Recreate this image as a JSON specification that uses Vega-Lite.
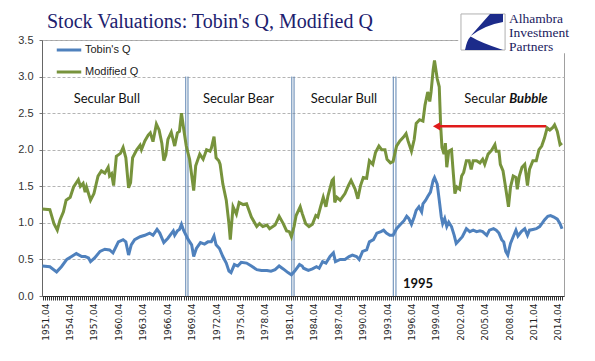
{
  "$schema": "https://vega.github.io/schema/vega-lite/v6.json",
  "width": 522,
  "height": 256,
  "autosize": {"type": "none"},
  "padding": {"left": 42, "top": 40, "right": 31, "bottom": 65},
  "background": "white",
  "title": {"text": "Stock Valuations: Tobin's Q, Modified Q", "anchor": "start", "frame": "group", "font": "Liberation Serif", "fontSize": 20, "fontWeight": "normal", "color": "#20206e", "offset": 8, "dx": 5, "dy": 33},
  "config": {"view": {"stroke": "#a0a0a0", "strokeWidth": 1}},
  "datasets": {
    "tobin": [
      {"d":"1951-06","v":0.41},{"d":"1952-05","v":0.40},{"d":"1953-03","v":0.33},{"d":"1953-10","v":0.40},{"d":"1954-06","v":0.50},{"d":"1955-01","v":0.54},{"d":"1955-08","v":0.58},{"d":"1956-04","v":0.54},{"d":"1956-09","v":0.54},{"d":"1957-02","v":0.52},{"d":"1957-05","v":0.47},{"d":"1957-11","v":0.52},{"d":"1958-07","v":0.61},{"d":"1959-02","v":0.64},{"d":"1959-09","v":0.63},{"d":"1960-02","v":0.59},{"d":"1960-10","v":0.74},{"d":"1961-05","v":0.77},{"d":"1961-09","v":0.74},{"d":"1962-01","v":0.56},{"d":"1962-05","v":0.70},{"d":"1962-10","v":0.77},{"d":"1963-06","v":0.81},{"d":"1964-01","v":0.83},{"d":"1964-08","v":0.86},{"d":"1965-01","v":0.83},{"d":"1965-07","v":0.91},{"d":"1965-11","v":0.86},{"d":"1966-05","v":0.73},{"d":"1966-11","v":0.79},{"d":"1967-07","v":0.89},{"d":"1967-09","v":0.83},{"d":"1968-01","v":0.89},{"d":"1968-04","v":0.91},{"d":"1968-07","v":0.98},{"d":"1968-10","v":0.90},{"d":"1969-05","v":0.77},{"d":"1969-10","v":0.70},{"d":"1970-01","v":0.54},{"d":"1970-05","v":0.65},{"d":"1970-11","v":0.73},{"d":"1971-05","v":0.71},{"d":"1971-10","v":0.74},{"d":"1972-03","v":0.74},{"d":"1972-07","v":0.82},{"d":"1972-10","v":0.70},{"d":"1973-03","v":0.65},{"d":"1973-08","v":0.54},{"d":"1974-01","v":0.45},{"d":"1974-05","v":0.34},{"d":"1974-08","v":0.32},{"d":"1975-01","v":0.43},{"d":"1975-06","v":0.41},{"d":"1975-11","v":0.46},{"d":"1976-07","v":0.45},{"d":"1977-02","v":0.41},{"d":"1977-10","v":0.36},{"d":"1978-05","v":0.35},{"d":"1979-01","v":0.35},{"d":"1979-07","v":0.34},{"d":"1980-01","v":0.36},{"d":"1980-07","v":0.41},{"d":"1981-01","v":0.37},{"d":"1981-08","v":0.32},{"d":"1982-01","v":0.29},{"d":"1982-06","v":0.34},{"d":"1983-01","v":0.43},{"d":"1983-05","v":0.41},{"d":"1983-07","v":0.38},{"d":"1984-02","v":0.35},{"d":"1984-08","v":0.37},{"d":"1985-02","v":0.40},{"d":"1985-06","v":0.38},{"d":"1985-11","v":0.47},{"d":"1986-04","v":0.45},{"d":"1986-10","v":0.54},{"d":"1987-03","v":0.59},{"d":"1987-06","v":0.47},{"d":"1988-01","v":0.50},{"d":"1988-08","v":0.50},{"d":"1989-02","v":0.54},{"d":"1989-07","v":0.56},{"d":"1990-01","v":0.54},{"d":"1990-05","v":0.50},{"d":"1990-10","v":0.61},{"d":"1991-04","v":0.63},{"d":"1991-08","v":0.74},{"d":"1992-02","v":0.77},{"d":"1992-07","v":0.86},{"d":"1993-01","v":0.88},{"d":"1993-05","v":0.90},{"d":"1993-09","v":0.86},{"d":"1994-02","v":0.83},{"d":"1994-07","v":0.83},{"d":"1994-12","v":0.92},{"d":"1995-05","v":0.97},{"d":"1995-11","v":1.03},{"d":"1996-03","v":1.09},{"d":"1996-06","v":1.06},{"d":"1996-10","v":0.98},{"d":"1997-02","v":1.08},{"d":"1997-05","v":1.17},{"d":"1997-09","v":1.22},{"d":"1998-01","v":1.15},{"d":"1998-03","v":1.26},{"d":"1998-07","v":1.31},{"d":"1998-10","v":1.36},{"d":"1999-02","v":1.42},{"d":"1999-06","v":1.58},{"d":"1999-08","v":1.62},{"d":"1999-12","v":1.53},{"d":"2000-03","v":1.31},{"d":"2000-06","v":1.08},{"d":"2000-08","v":0.99},{"d":"2000-11","v":1.06},{"d":"2001-02","v":0.95},{"d":"2001-05","v":1.01},{"d":"2001-09","v":0.95},{"d":"2002-01","v":0.83},{"d":"2002-04","v":0.72},{"d":"2002-08","v":0.76},{"d":"2003-01","v":0.81},{"d":"2003-07","v":0.92},{"d":"2003-12","v":0.88},{"d":"2004-05","v":0.90},{"d":"2004-10","v":0.88},{"d":"2005-03","v":0.89},{"d":"2005-07","v":0.88},{"d":"2006-01","v":0.83},{"d":"2006-05","v":0.90},{"d":"2006-11","v":0.92},{"d":"2007-03","v":0.90},{"d":"2007-07","v":0.86},{"d":"2007-11","v":0.77},{"d":"2008-02","v":0.74},{"d":"2008-05","v":0.61},{"d":"2008-08","v":0.56},{"d":"2008-12","v":0.72},{"d":"2009-04","v":0.81},{"d":"2009-08","v":0.90},{"d":"2009-11","v":0.82},{"d":"2010-04","v":0.88},{"d":"2010-09","v":0.92},{"d":"2011-01","v":0.83},{"d":"2011-04","v":0.90},{"d":"2011-09","v":0.91},{"d":"2012-02","v":0.92},{"d":"2012-07","v":0.95},{"d":"2012-11","v":1.00},{"d":"2013-02","v":1.04},{"d":"2013-07","v":1.09},{"d":"2013-11","v":1.10},{"d":"2014-04","v":1.08},{"d":"2014-09","v":1.05},{"d":"2015-01","v":0.99},{"d":"2015-04","v":0.92}
    ],
    "modified": [
      {"d":"1951-06","v":1.19},{"d":"1952-05","v":1.18},{"d":"1952-11","v":0.99},{"d":"1953-04","v":0.90},{"d":"1953-08","v":1.04},{"d":"1954-01","v":1.15},{"d":"1954-05","v":1.31},{"d":"1954-11","v":1.35},{"d":"1955-04","v":1.49},{"d":"1955-11","v":1.59},{"d":"1956-02","v":1.50},{"d":"1956-06","v":1.54},{"d":"1956-09","v":1.42},{"d":"1956-11","v":1.49},{"d":"1957-05","v":1.31},{"d":"1957-10","v":1.40},{"d":"1958-04","v":1.64},{"d":"1958-09","v":1.71},{"d":"1959-02","v":1.68},{"d":"1959-07","v":1.76},{"d":"1959-09","v":1.64},{"d":"1959-12","v":1.67},{"d":"1960-03","v":1.51},{"d":"1960-07","v":1.91},{"d":"1961-01","v":1.95},{"d":"1961-05","v":2.03},{"d":"1961-09","v":1.89},{"d":"1962-01","v":1.48},{"d":"1962-04","v":1.55},{"d":"1962-07","v":1.89},{"d":"1963-01","v":2.00},{"d":"1963-06","v":2.06},{"d":"1963-08","v":2.00},{"d":"1964-01","v":2.12},{"d":"1964-06","v":2.20},{"d":"1964-09","v":2.23},{"d":"1965-01","v":2.11},{"d":"1965-06","v":2.35},{"d":"1965-10","v":2.27},{"d":"1966-02","v":2.09},{"d":"1966-05","v":1.85},{"d":"1966-08","v":1.93},{"d":"1966-11","v":2.14},{"d":"1967-04","v":2.24},{"d":"1967-09","v":2.05},{"d":"1968-01","v":2.23},{"d":"1968-04","v":2.25},{"d":"1968-07","v":2.50},{"d":"1968-10","v":2.30},{"d":"1969-02","v":2.05},{"d":"1969-07","v":1.87},{"d":"1970-01","v":1.44},{"d":"1970-04","v":1.78},{"d":"1970-10","v":1.94},{"d":"1971-03","v":1.87},{"d":"1971-08","v":2.00},{"d":"1972-01","v":1.98},{"d":"1972-03","v":2.02},{"d":"1972-07","v":2.18},{"d":"1972-10","v":1.89},{"d":"1973-02","v":1.85},{"d":"1973-04","v":1.80},{"d":"1973-08","v":1.53},{"d":"1974-01","v":1.31},{"d":"1974-05","v":0.99},{"d":"1974-07","v":0.77},{"d":"1974-11","v":1.22},{"d":"1975-04","v":1.12},{"d":"1975-08","v":1.28},{"d":"1976-02","v":1.25},{"d":"1976-07","v":1.26},{"d":"1977-02","v":1.08},{"d":"1977-10","v":0.95},{"d":"1978-02","v":0.99},{"d":"1978-07","v":0.95},{"d":"1979-01","v":0.97},{"d":"1979-05","v":0.92},{"d":"1980-01","v":0.97},{"d":"1980-07","v":1.09},{"d":"1981-01","v":0.99},{"d":"1981-06","v":0.89},{"d":"1981-10","v":0.88},{"d":"1982-01","v":0.81},{"d":"1982-05","v":0.95},{"d":"1982-08","v":1.10},{"d":"1983-02","v":1.22},{"d":"1983-05","v":1.13},{"d":"1983-10","v":0.99},{"d":"1984-03","v":0.95},{"d":"1984-08","v":0.98},{"d":"1985-01","v":1.10},{"d":"1985-04","v":1.08},{"d":"1985-08","v":1.22},{"d":"1985-12","v":1.35},{"d":"1986-04","v":1.22},{"d":"1986-07","v":1.37},{"d":"1987-01","v":1.58},{"d":"1987-03","v":1.60},{"d":"1987-05","v":1.28},{"d":"1987-08","v":1.35},{"d":"1988-01","v":1.31},{"d":"1988-08","v":1.40},{"d":"1989-01","v":1.51},{"d":"1989-05","v":1.58},{"d":"1989-11","v":1.46},{"d":"1990-03","v":1.33},{"d":"1990-07","v":1.51},{"d":"1990-11","v":1.62},{"d":"1991-04","v":1.61},{"d":"1991-08","v":1.85},{"d":"1992-01","v":1.80},{"d":"1992-05","v":1.96},{"d":"1992-10","v":2.05},{"d":"1993-02","v":2.00},{"d":"1993-07","v":2.00},{"d":"1993-10","v":1.87},{"d":"1994-03","v":1.82},{"d":"1994-07","v":1.84},{"d":"1994-12","v":2.05},{"d":"1995-05","v":2.12},{"d":"1995-10","v":2.17},{"d":"1996-02","v":2.22},{"d":"1996-05","v":2.12},{"d":"1996-10","v":1.98},{"d":"1997-02","v":2.14},{"d":"1997-05","v":2.36},{"d":"1997-10","v":2.41},{"d":"1998-03","v":2.39},{"d":"1998-06","v":2.61},{"d":"1998-10","v":2.79},{"d":"1999-01","v":2.66},{"d":"1999-03","v":2.79},{"d":"1999-06","v":3.09},{"d":"1999-08","v":3.22},{"d":"1999-12","v":2.97},{"d":"2000-03","v":2.86},{"d":"2000-05","v":2.34},{"d":"2000-07","v":2.03},{"d":"2000-10","v":1.94},{"d":"2000-12","v":2.09},{"d":"2001-02","v":1.76},{"d":"2001-05","v":1.98},{"d":"2001-09","v":2.00},{"d":"2001-11","v":1.76},{"d":"2002-02","v":1.40},{"d":"2002-05","v":1.49},{"d":"2002-09","v":1.46},{"d":"2002-12","v":1.64},{"d":"2003-03","v":1.69},{"d":"2003-07","v":1.85},{"d":"2003-11","v":1.85},{"d":"2004-02","v":1.73},{"d":"2004-05","v":1.85},{"d":"2004-10","v":1.85},{"d":"2005-03","v":1.82},{"d":"2005-07","v":1.87},{"d":"2005-10","v":1.80},{"d":"2006-03","v":1.94},{"d":"2006-08","v":1.99},{"d":"2007-01","v":2.07},{"d":"2007-03","v":1.98},{"d":"2007-07","v":1.98},{"d":"2007-09","v":1.80},{"d":"2008-01","v":1.71},{"d":"2008-04","v":1.53},{"d":"2008-07","v":1.35},{"d":"2008-09","v":1.22},{"d":"2008-12","v":1.49},{"d":"2009-04","v":1.64},{"d":"2009-08","v":1.62},{"d":"2009-10","v":1.46},{"d":"2010-01","v":1.64},{"d":"2010-05","v":1.76},{"d":"2010-09","v":1.80},{"d":"2011-01","v":1.51},{"d":"2011-04","v":1.73},{"d":"2011-09","v":1.85},{"d":"2012-02","v":1.85},{"d":"2012-06","v":2.00},{"d":"2012-10","v":2.05},{"d":"2013-02","v":2.16},{"d":"2013-06","v":2.30},{"d":"2013-10","v":2.27},{"d":"2014-02","v":2.30},{"d":"2014-05","v":2.34},{"d":"2014-09","v":2.25},{"d":"2015-01","v":2.07},{"d":"2015-04","v":2.09}
    ]
  },
  "encoding": {
    "x": {
      "field": "d", "type": "temporal",
      "scale": {"type": "utc", "domain": [{"year": 1951, "month": 5, "date": 15, "utc": true}, {"year": 2015, "month": 6, "date": 28, "utc": true}]},
      "axis": {"title": null, "tickCount": {"interval": "month", "step": 3}, "labelExpr": "utcmonth(datum.value) == 9 && (utcyear(datum.value) - 1951) % 3 == 0 ? utcyear(datum.value) + '.04' : ''", "labelAngle": -90, "labelOverlap": false, "labelFlush": false, "labelBound": false, "labelSeparation": 0, "labelFont": "DejaVu Sans", "labelFontSize": 9, "labelColor": "#222222", "labelPadding": 3, "tickSize": 4, "tickColor": "#333333", "domainColor": "#333333", "grid": false}
    },
    "y": {
      "field": "v", "type": "quantitative",
      "scale": {"domain": [0, 3.5], "nice": false},
      "axis": {"title": null, "values": [0, 0.5, 1, 1.5, 2, 2.5, 3, 3.5], "format": ".1f", "grid": true, "gridDash": [3, 2], "gridColor": "#b4b4b4", "tickSize": 3, "tickColor": "#777777", "domainColor": "#666666", "labelFont": "Liberation Sans", "labelFontSize": 11, "labelColor": "#333333", "labelPadding": 6}
    }
  },
  "layer": [
    {
      "data": {"values": [{"d": "2002-07-01", "d2": "2018-01-01", "v": 3.95, "v2": 3.32}]},
      "mark": {"type": "rect", "fill": "white", "strokeWidth": 0},
      "encoding": {"x2": {"field": "d2"}, "y2": {"field": "v2"}}
    },
    {
      "data": {"values": [{"d": "1969-01-10", "v": 3}, {"d": "1969-04-20", "v": 3}, {"d": "1982-01-20", "v": 3}, {"d": "1982-05-01", "v": 3}, {"d": "1994-07-08", "v": 3}, {"d": "1994-11-06", "v": 3}]},
      "mark": {"type": "rule", "color": "#5b82b0", "strokeWidth": 1},
      "encoding": {"y2": {"datum": 0}}
    },
    {
      "data": {"name": "tobin"},
      "mark": {"type": "line", "strokeWidth": 3},
      "encoding": {
        "color": {"datum": "Tobin's Q", "type": "nominal",
          "scale": {"domain": ["Tobin's Q", "Modified Q"], "range": ["#4f81bd", "#77933c"]},
          "legend": {"title": null, "orient": "none", "legendX": 13, "legendY": -4, "direction": "vertical", "symbolType": "stroke", "symbolStrokeWidth": 3, "symbolSize": 600, "labelFont": "Liberation Sans", "labelFontSize": 11, "labelColor": "#222222", "rowPadding": 2, "labelOffset": 2}}
      }
    },
    {
      "data": {"name": "modified"},
      "mark": {"type": "line", "strokeWidth": 3},
      "encoding": {"color": {"datum": "Modified Q", "type": "nominal"}}
    },
    {
      "data": {"values": [{"d": "1959-05-01", "v": 2.69, "t": "Secular Bull"}, {"d": "1975-07-01", "v": 2.69, "t": "Secular Bear"}, {"d": "1988-06-15", "v": 2.69, "t": "Secular Bull"}]},
      "mark": {"type": "text", "font": "Lato", "fontSize": 13, "color": "#111111", "align": "center", "baseline": "middle"},
      "encoding": {"text": {"field": "t"}}
    },
    {
      "data": {"values": [{"d": "2003-03-28", "v": 2.69, "t": "Secular"}]},
      "mark": {"type": "text", "font": "Lato", "fontSize": 13, "color": "#111111", "align": "left", "baseline": "middle"},
      "encoding": {"text": {"field": "t"}}
    },
    {
      "data": {"values": [{"d": "2008-10-05", "v": 2.69, "t": "Bubble"}]},
      "mark": {"type": "text", "font": "Lato", "fontSize": 13, "fontWeight": "bold", "fontStyle": "italic", "color": "#111111", "align": "left", "baseline": "middle"},
      "encoding": {"text": {"field": "t"}}
    },
    {
      "data": {"values": [{"d": "1995-09-15", "v": 0.17, "t": "1995"}]},
      "mark": {"type": "text", "font": "Lato", "fontSize": 13, "fontWeight": "bold", "color": "#111111", "align": "left", "baseline": "middle"},
      "encoding": {"text": {"field": "t"}}
    },
    {
      "data": {"values": [{"d": "1999-12-01", "d2": "2013-04-15", "v": 2.32}]},
      "mark": {"type": "rule", "color": "#e01b1b", "strokeWidth": 2.5},
      "encoding": {"x2": {"field": "d2"}}
    },
    {
      "data": {"values": [{"d": "1999-11-01", "v": 2.32}]},
      "mark": {"type": "point", "shape": "triangle-left", "filled": true, "size": 70, "color": "#e01b1b", "opacity": 1}
    },
    {
      "data": {"values": [{"d": "2002-11-01", "d2": "2008-04-01", "v": 3.856, "v2": 3.363}]},
      "mark": {"type": "rect", "fill": "white", "stroke": "#b0b0b0", "strokeWidth": 1},
      "encoding": {"x2": {"field": "d2"}, "y2": {"field": "v2"}}
    },
    {
      "data": {"values": [{"d": "2005-07-16", "v": 3.61}]},
      "mark": {"type": "point", "shape": "M1,-0.9 L0.35,-0.9 L-0.62,0.2 Q0.1,-0.35 1,-0.5 Z M-0.9,0.9 Q-0.8,0.4 -0.62,0.23 Q-0.1,0.55 1,0.9 Z", "filled": true, "size": 1600, "color": "#1c2b8a", "opacity": 1, "strokeWidth": 0}
    },
    {
      "data": {"values": [{"d": "2008-09-24", "v": 3.785, "t": "Alhambra"}, {"d": "2008-09-24", "v": 3.596, "t": "Investment"}, {"d": "2008-09-24", "v": 3.407, "t": "Partners"}]},
      "mark": {"type": "text", "font": "Liberation Serif", "fontSize": 13.5, "color": "#1a1a5e", "align": "left", "baseline": "middle"},
      "encoding": {"text": {"field": "t"}}
    }
  ]
}
